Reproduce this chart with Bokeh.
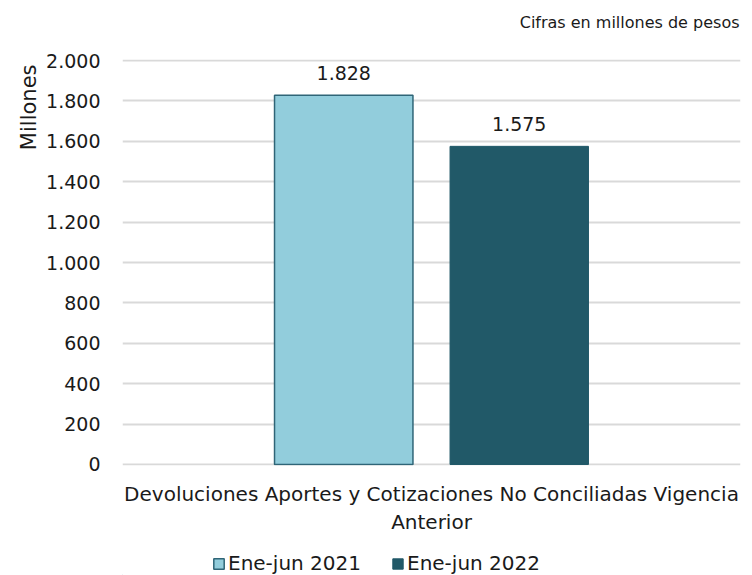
from bokeh.plotting import figure
from bokeh.layouts import column
from bokeh.models import (ColumnDataSource, FactorRange, Legend, LegendItem,
                          Title, Label, FixedTicker, Range1d)
from bokeh.transform import dodge
from bokeh.core.properties import value
from bokeh.embed import file_html
from bokeh.resources import INLINE

# ---- data ----
# category name, split on two lines as in the chart
category_lines = ["Devoluciones Aportes y Cotizaciones No Conciliadas Vigencia",
                  "Anterior"]
categories = [category_lines[0]]
series = ["Ene-jun 2021", "Ene-jun 2022"]
values_2021 = [1828]
values_2022 = [1575]
value_labels_2021 = ["1.828"]
value_labels_2022 = ["1.575"]
y_ticks = [0, 200, 400, 600, 800, 1000, 1200, 1400, 1600, 1800, 2000]
y_tick_labels = ["0", "200", "400", "600", "800", "1.000", "1.200", "1.400",
                 "1.600", "1.800", "2.000"]
subtitle = "Cifras en millones de pesos"
y_title = "Millones"

FONT = "DejaVu Sans"
TXT = "#1a1a1a"
C1 = "#92CDDC"
C1_LINE = "#2F6577"
C2 = "#215968"
W = 752

# ---- top strip with the note (frame aligned with the chart: 122..740) ----
top = figure(width=W, height=40, x_range=Range1d(122, 740), y_range=Range1d(40, 0),
             output_backend="svg", toolbar_location=None, min_border=0)
top.axis.visible = False
top.grid.visible = False
top.outline_line_color = None
top.add_layout(Label(x=739, y=22, text=subtitle, text_align="right",
                     text_baseline="middle", text_font=FONT,
                     text_font_size="16px", text_color=TXT))

# ---- main chart ----
src = ColumnDataSource(dict(cat=categories, v1=values_2021, v2=values_2022,
                            l1=value_labels_2021, l2=value_labels_2022))

p = figure(width=W, height=496, x_range=FactorRange(factors=categories),
           y_range=Range1d(-5, 2005), output_backend="svg", toolbar_location=None,
           min_border_left=122, min_border_right=12, min_border_top=19,
           min_border_bottom=69)
p.x_range.range_padding = 0
p.outline_line_color = None
p.background_fill_color = "white"

off = 0.142
w = 0.224
r1 = p.vbar(x=dodge("cat", -off, range=p.x_range), top="v1", width=w, source=src,
            fill_color=C1, line_color=C1_LINE, line_width=1.5)
r2 = p.vbar(x=dodge("cat", off, range=p.x_range), top="v2", width=w, source=src,
            fill_color=C2, line_color=C2, line_width=1)

p.text(x=dodge("cat", -off, range=p.x_range), y="v1", text="l1", source=src,
       y_offset=-22, text_align="center", text_baseline="middle",
       text_font=value(FONT), text_font_size="19px", text_color=TXT)
p.text(x=dodge("cat", off, range=p.x_range), y="v2", text="l2", source=src,
       y_offset=-22, text_align="center", text_baseline="middle",
       text_font=value(FONT), text_font_size="19px", text_color=TXT)

# y axis
p.yaxis.ticker = FixedTicker(ticks=y_ticks)
p.yaxis.major_label_overrides = {t: l for t, l in zip(y_ticks, y_tick_labels)}
p.yaxis.axis_line_color = None
p.yaxis.major_tick_line_color = None
p.yaxis.minor_tick_line_color = None
p.yaxis.major_label_standoff = 16
p.yaxis.major_label_text_font = FONT
p.yaxis.major_label_text_font_size = "19px"
p.yaxis.major_label_text_color = TXT

# x axis: category label on two lines (tick label + axis label)
p.xaxis.axis_label = category_lines[1]
p.xaxis.axis_line_color = None
p.xaxis.major_tick_line_color = None
p.xaxis.major_tick_out = 0
p.xaxis.major_label_standoff = 16
p.xaxis.major_label_text_font = FONT
p.xaxis.major_label_text_font_size = "20px"
p.xaxis.major_label_text_color = TXT
p.xaxis.axis_label_standoff = 1
p.xaxis.axis_label_text_font = FONT
p.xaxis.axis_label_text_font_size = "20px"
p.xaxis.axis_label_text_font_style = "normal"
p.xaxis.axis_label_text_color = TXT
p.xgrid.grid_line_color = None
p.ygrid.grid_line_color = "#d9d9d9"
p.ygrid.grid_line_width = 2

p.add_layout(Title(text=y_title, align="right", text_font=FONT,
                   text_font_size="21px", text_font_style="normal",
                   text_color=TXT, standoff=5, offset=5), "left")

# ---- legend strip below the chart ----
lg = figure(width=W, height=39, output_backend="svg", toolbar_location=None,
            min_border=0, x_range=Range1d(0, 1), y_range=Range1d(1, 2))
lg.axis.visible = False
lg.grid.visible = False
lg.outline_line_color = None
swatch = ColumnDataSource(dict(x=[-10], top=[0]))  # lies outside the strip's range
g1 = lg.vbar(x="x", top="top", width=0.01, source=swatch,
             fill_color=C1, line_color=C1_LINE, line_width=1.5)
g2 = lg.vbar(x="x", top="top", width=0.01, source=swatch,
             fill_color=C2, line_color=C2, line_width=1)
legend = Legend(items=[LegendItem(label=series[0], renderers=[g1]),
                       LegendItem(label=series[1], renderers=[g2])],
                orientation="horizontal", location=(90, 0),
                label_text_font=FONT, label_text_font_size="20px",
                label_text_color=TXT, glyph_width=13, glyph_height=13,
                label_standoff=3, spacing=30, border_line_color=None,
                background_fill_alpha=0, padding=0, margin=0)
lg.add_layout(legend, "center")

layout = column(top, p, lg, spacing=0)
open("out.html", "w").write(file_html(layout, INLINE))
